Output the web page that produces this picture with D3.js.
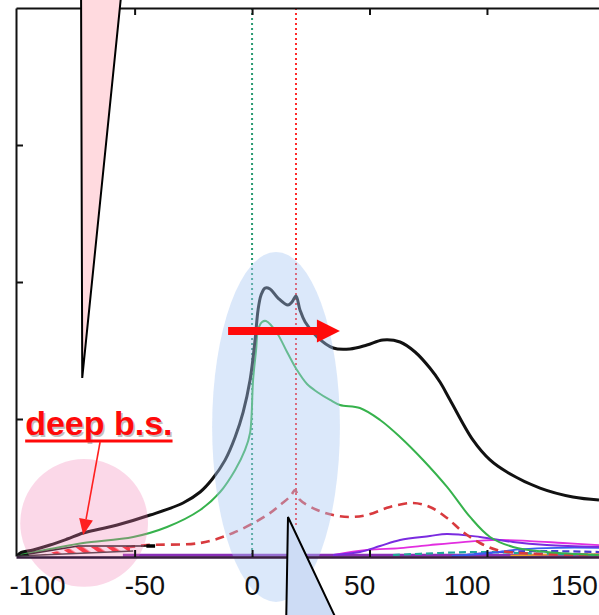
<!DOCTYPE html>
<html><head><meta charset="utf-8">
<script src="https://cdn.jsdelivr.net/npm/d3@7"></script>
<style>
html,body{margin:0;padding:0;background:#fff;}
svg{display:block;font-family:"Liberation Sans",Arial,sans-serif;}
</style></head>
<body>
<svg id="chart" width="599" height="615"></svg>
<script>
// ---------- data (x in channel units, y in arbitrary units) ----------
const xTickLabels = [-100, -50, 0, 50, 100, 150];
const xTickMarks = [-50, 0, 50, 100];
const yTickMarks = [1, 2, 3];

const total = [[-100,0.0],[-98.7,0.022],[-93.2,0.044],[-86,0.08],[-78.7,0.124],[-71.9,0.168],[-64.7,0.197],[-57.4,0.226],
  [-43.4,0.299],[-29.4,0.387],[-22.1,0.467],[-17,0.56],[-11.5,0.7],[-7.2,0.869],[-3.8,1.051],[-0.85,1.285],[1.28,1.577],
  [2.55,1.796],[3.83,1.905],[5.53,1.956],[7.66,1.949],[11.06,1.883],[15.3,1.832],[17.0,1.854],[18.7,1.898],[20.4,1.796],
  [22.6,1.708],[27.7,1.599],[34.5,1.518],[41.7,1.511],[48.9,1.54],[55.7,1.577],[63,1.562],[69.4,1.489],[75.7,1.372],
  [80,1.27],[84.3,1.139],[94,0.847],[101.3,0.701],[108.5,0.613],[122.6,0.496],[136.6,0.431],[147.7,0.409]];

const direct = [[-100,0.007],[-86,0.051],[-71.9,0.095],[-50.6,0.139],[-36.2,0.212],[-22.1,0.336],[-13.6,0.467],[-7.2,0.628],
  [-3,0.774],[-0.85,0.898],[0.43,1.285],[1.7,1.5],[2.55,1.65],[4.26,1.708],[5.96,1.715],[10.6,1.628],[14.9,1.489],[19.1,1.358],
  [23.4,1.255],[27.7,1.197],[33.2,1.139],[37.4,1.102],[45.9,1.08],[54.5,0.993],[63,0.869],[72.8,0.701],[83,0.504],
  [92.8,0.285],[101.3,0.139],[111.1,0.066],[125.5,0.029],[147.7,0.007]];

const backscatter = [[-60,0.055],[-51.9,0.066],[-44.7,0.08],[-22.1,0.095],[-8.1,0.168],[6.4,0.299],[12.5,0.38],[16.5,0.44],[18.3,0.482],
  [20.4,0.409],[27.7,0.336],[34.5,0.299],[41.7,0.285],[48.9,0.299],[58.7,0.358],[68.5,0.387],[75.7,0.358],[83,0.277],
  [89.8,0.175],[97,0.095],[104.3,0.044],[114,0.022],[147.7,0.007]];

const violet = [[34.5,0.007],[45.9,0.029],[54.5,0.073],[63,0.117],[75.7,0.146],[83,0.161],[97,0.139],[111.1,0.102],[125.5,0.08],[147.7,0.066]];
const magenta = [[34.5,0.007],[48.9,0.044],[63,0.058],[75.7,0.08],[89.8,0.102],[104.3,0.117],[118.3,0.109],[132.3,0.095],[147.7,0.08]];
const blueSolid = [[85,0.0],[100,0.02],[115,0.05],[130,0.06],[147.7,0.06]];
const tealDashed = [[60,0.007],[80,0.022],[97,0.029],[114,0.022],[147.7,0.007]];
const blueDashed = [[90,0.005],[105.5,0.029],[122.6,0.036],[147.7,0.029]];
const orangeLine = [[110,0.003],[130,0.012],[147.7,0.012]];
const baseline = [[-55,0.005],[147.7,0.005]];

const markerGreen = 0;     // dotted green vertical
const markerRed = 18.7;    // dotted red vertical

// annotation anchors (data units)
const deepBox = [[-100,0],[-74,0.073],[-41.3,0.073]];
const deepLower = [[-100,0],[-50.6,0.036]];
const hatchArea = [[-90,0.01],[-74,0.068],[-52,0.068],[-52,0.033]];
const pinkCircle = {cx:-71.5, cy:0.241, r:27.2};
const blueEllipse = {cx:10.2, cy:0.942, rx:27.2, ry:1.277};
const pinkTri = [[-72.8,4.1],[-55.7,4.1],[-72.3,1.30]];
const blueTri = [[15.3,0.285],[14.5,-0.5],[36.9,-0.5]];
const shiftArrow = {x0:-10.2, x1:37.4, yv:1.642};
const labelText = "deep b.s.";
const labelPos = [-96.6, 0.883];
const labelArrow = [[-64.7,0.832],[-71.9,0.153]];

// ---------- scales ----------
const svg = d3.select("#chart");
const x = d3.scaleLinear().domain([-100.5, 147.7]).range([16, 599]);
const y = d3.scaleLinear().domain([0, 4]).range([556, 8]);
const xl = d3.scaleLinear().domain([-100, 150]).range([37, 574]); // label placement scale

const defs = svg.append("defs");
const pat = defs.append("pattern").attr("id","hatch").attr("patternUnits","userSpaceOnUse")
  .attr("width",9).attr("height",9).attr("patternTransform","rotate(-55)");
pat.append("rect").attr("width",9).attr("height",9).attr("fill","#fff");
pat.append("rect").attr("width",4.5).attr("height",9).attr("fill","#ff2020");
const clip = defs.append("clipPath").attr("id","plotclip");
clip.append("rect").attr("x",16).attr("y",8).attr("width",583).attr("height",549);

svg.append("rect").attr("width",599).attr("height",615).attr("fill","#fff");

const line = d3.line().x(d=>x(d[0])).y(d=>y(d[1])).curve(d3.curveCatmullRom.alpha(0.5));
const g = svg.append("g").attr("clip-path","url(#plotclip)");

// dotted markers
g.append("line").attr("x1",x(markerGreen)).attr("x2",x(markerGreen)).attr("y1",y(4)).attr("y2",y(0))
  .attr("stroke","#2a9a72").attr("stroke-width",2).attr("stroke-dasharray","2,3");
g.append("line").attr("x1",x(markerRed)).attr("x2",x(markerRed)).attr("y1",y(4)).attr("y2",y(0.212))
  .attr("stroke","#ff2a2a").attr("stroke-width",2).attr("stroke-dasharray","2,3");

// small components
const smalls = [
  {d:baseline, c:"#8a2fb8", w:3},
  {d:orangeLine, c:"#f0a020", w:1.8},
  {d:tealDashed, c:"#22a89a", w:2.2, dash:"7,4"},
  {d:blueDashed, c:"#4a3ad0", w:2.2, dash:"7,4"},
  {d:blueSolid, c:"#3a5cf0", w:1.8},
  {d:magenta, c:"#e22ee0", w:1.8},
  {d:violet, c:"#7a2be0", w:2},
];
smalls.forEach(s=>{
  g.append("path").datum(s.d).attr("d",line).attr("fill","none").attr("stroke",s.c)
   .attr("stroke-width",s.w).attr("stroke-dasharray",s.dash||null);
});

g.append("path").datum(backscatter).attr("d",line).attr("fill","none").attr("stroke","#d83a3e")
  .attr("stroke-width",2.6).attr("stroke-dasharray","9,6");
g.append("path").datum(direct).attr("d",line).attr("fill","none").attr("stroke","#36b24c").attr("stroke-width",2);
g.append("path").datum(total).attr("d",line).attr("fill","none").attr("stroke","#111").attr("stroke-width",3);

// deep b.s. inset
const lin = d3.line().x(d=>x(d[0])).y(d=>y(d[1]));
g.append("path").datum(hatchArea).attr("d",d=>lin(d)+"Z").attr("fill","url(#hatch)");
g.append("path").datum(deepBox).attr("d",lin).attr("fill","none").attr("stroke","#111").attr("stroke-width",1.6);
g.append("line").attr("x1",x(-45)).attr("x2",x(-41.3)).attr("y1",y(0.073)).attr("y2",y(0.073)).attr("stroke","#000").attr("stroke-width",3.5);
g.append("path").datum(deepLower).attr("d",lin).attr("fill","none").attr("stroke","#333").attr("stroke-width",1.4);

// translucent highlight shapes
svg.append("circle").attr("cx",x(pinkCircle.cx)).attr("cy",y(pinkCircle.cy))
  .attr("r",x(pinkCircle.cx+pinkCircle.r)-x(pinkCircle.cx)).attr("fill","#f27fb4").attr("opacity",0.3);
svg.append("ellipse").attr("cx",x(blueEllipse.cx)).attr("cy",y(blueEllipse.cy))
  .attr("rx",x(blueEllipse.cx+blueEllipse.rx)-x(blueEllipse.cx))
  .attr("ry",y(0)-y(blueEllipse.ry)).attr("fill","#a9c9f2").attr("opacity",0.42);

// axes
const axStyle = sel=>{ sel.selectAll("path,line").attr("stroke","#111").attr("stroke-width",2); };
svg.append("g").attr("transform","translate(16,0)")
  .call(d3.axisLeft(y).tickValues(yTickMarks).tickSize(-7).tickSizeOuter(0).tickFormat(""))
  .call(axStyle);
svg.append("g").attr("transform","translate(0,8)")
  .call(d3.axisTop(x).tickValues(xTickMarks).tickSize(-7).tickSizeOuter(0).tickFormat(""))
  .call(axStyle);
const bx = svg.append("g").attr("transform","translate(0,557)")
  .call(d3.axisBottom(x).tickValues(xTickMarks).tickSize(-7).tickSizeOuter(0).tickFormat(""))
  .call(axStyle);
bx.select(".domain").attr("stroke","#3a1f3f").attr("stroke-width",2.6);

const lab = svg.append("g").attr("transform","translate(0,557)")
  .call(d3.axisBottom(xl).tickValues(xTickLabels).tickSize(0).tickFormat(d=>String(d)));
lab.select(".domain").remove();
lab.selectAll("text").attr("y",38).attr("dy",0).attr("fill","#111")
  .style("font-size","28px").style("font-family","'Liberation Sans',Arial,sans-serif");

// red shift arrow
const ax0 = x(shiftArrow.x0), ax1 = x(shiftArrow.x1), ay = y(shiftArrow.yv);
svg.append("path").attr("fill","#ff0a0a")
  .attr("d",`M${ax0},${ay-4}L${ax1-23},${ay-4}L${ax1-23},${ay-11.5}L${ax1},${ay}L${ax1-23},${ay+11.5}L${ax1-23},${ay+4}L${ax0},${ay+4}Z`);

// callout triangles
svg.append("path").datum(pinkTri).attr("d",d=>lin(d)+"Z").attr("fill","#ffdadf").attr("stroke","#000").attr("stroke-width",2);
svg.append("path").datum(blueTri).attr("d",d=>lin(d)+"Z").attr("fill","#cddcf5").attr("stroke","#000").attr("stroke-width",2);

// deep b.s. label
const tx = x(labelPos[0]), ty = y(labelPos[1]);
svg.append("text").attr("x",tx+1.5).attr("y",ty+1.5).text(labelText).attr("fill","#999").attr("opacity",0.6)
  .style("font-size","34px").style("font-weight","bold");
const t = svg.append("text").attr("x",tx).attr("y",ty).text(labelText).attr("fill","#ff0a0a")
  .style("font-size","34px").style("font-weight","bold");
const tw = t.node().getComputedTextLength();
svg.append("line").attr("x1",tx).attr("x2",tx+tw).attr("y1",ty+6).attr("y2",ty+6).attr("stroke","#ff0a0a").attr("stroke-width",3);

// label arrow
const la0 = [x(labelArrow[0][0]), y(labelArrow[0][1])], la1 = [x(labelArrow[1][0]), y(labelArrow[1][1])];
const ang = Math.atan2(la1[1]-la0[1], la1[0]-la0[0]);
const hl = 16, hw = 7;
const bxp = la1[0]-hl*Math.cos(ang), byp = la1[1]-hl*Math.sin(ang);
svg.append("line").attr("x1",la0[0]).attr("y1",la0[1]).attr("x2",bxp).attr("y2",byp).attr("stroke","#ff2020").attr("stroke-width",1.6);
svg.append("path").attr("fill","#ff2020").attr("d",
  `M${la1[0]},${la1[1]}L${bxp-hw*Math.sin(ang)},${byp+hw*Math.cos(ang)}L${bxp+hw*Math.sin(ang)},${byp-hw*Math.cos(ang)}Z`);
</script>
</body></html>
